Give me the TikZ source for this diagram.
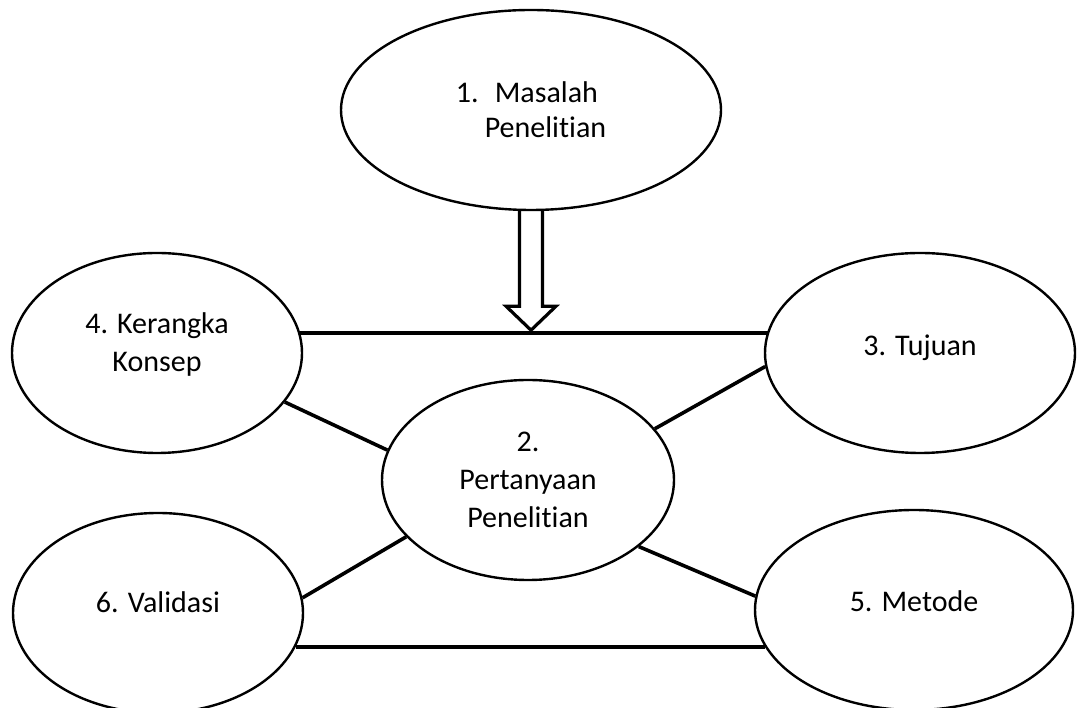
\documentclass[tikz,border=0pt]{standalone}
\usepackage{fontspec}
\setmainfont{Carlito}[Ligatures=NoCommon]
\usepackage{tikz}
\usetikzlibrary{shapes.geometric}

\begin{document}
\begin{tikzpicture}[x=1pt,y=1pt,
    bubble/.style={ellipse,draw,line width=2.4pt,inner sep=0pt,minimum height=200pt,
      font=\fontsize{30}{38}\selectfont,align=center},
    link/.style={line width=3.6pt}]
  \useasboundingbox (0,0) rectangle (1078,708);

  \node (mp) [bubble,minimum width=380pt,align=left,font=\fontsize{30}{35}\selectfont]
    at (531,598) {\makebox[39pt][l]{1.}Masalah\\\hspace{29pt}Penelitian};
  \node (pp) [bubble,minimum width=292pt] at (528,228) {2.\\Pertanyaan\\Penelitian};
  \node (kk) [bubble,minimum width=290pt,text height=44pt,text depth=6pt]
    at (157,355) {4. Kerangka\\Konsep};
  \node (tj) [bubble,minimum width=310pt,text height=14pt,text depth=8pt]
    at (920,355) {3. Tujuan};
  \node (vd) [bubble,minimum width=290pt,text height=10pt,text depth=10pt]
    at (158,95) {6. Validasi};
  \node (mt) [bubble,minimum width=318pt,text height=13pt,text depth=9pt]
    at (914,98) {5. Metode};

  \draw[link] (kk.8.84) -- (tj.171.72 |- kk.8.84);
  \draw[link] (vd.346) -- (mt.194.06 |- vd.346);
  \draw[link] (kk.339.8) -- (pp.168.2);
  \draw[link] (pp.22.6) -- (tj.185.3);
  \draw[link] (vd.6.6) -- (pp.205.4);
  \draw[link] (pp.329.6) -- (mt.175.6);

  \draw[line width=3.2pt,line join=miter] ([xshift=-11.5]mp.south) -- ++(0,-95)
    -- ++(-13.5,0) -- ++(25,-24) -- ++(25,24) -- ++(-13.5,0)
    -- ([xshift=11.5]mp.south);
\end{tikzpicture}
\end{document}
